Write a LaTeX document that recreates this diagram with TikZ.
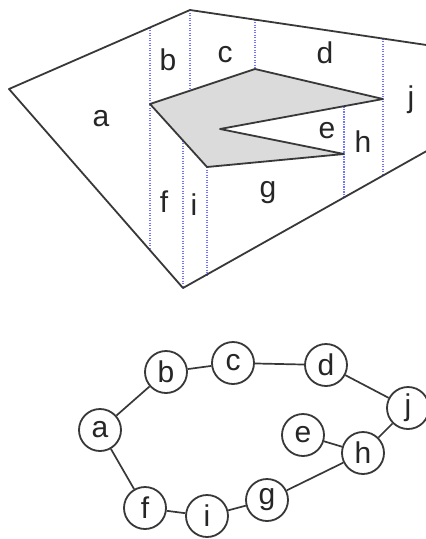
\documentclass[tikz,border=0pt]{standalone}
\usepackage{fontspec}
\setmainfont{Liberation Sans}
\begin{document}
\begin{tikzpicture}[x=1pt,y=-1pt,
  outline/.style={draw=black!78, line width=1.8pt, line join=round},
  sweep/.style={draw=blue!55!white, line width=1.8pt, dash pattern=on 1.3pt off 1.2pt},
  lbl/.style={anchor=base, font=\fontsize{30}{30}\selectfont, text=black!85, inner sep=0pt},
  vtx/.style={circle, draw=black!78, fill=white, line width=1.8pt, minimum size=42pt, inner sep=0pt, font=\fontsize{30}{30}\selectfont, text=black!85},
  link/.style={draw=black!78, line width=1.7pt}]
\useasboundingbox (0,0) rectangle (426,539);
\clip (0,0) rectangle (426,539);
% outer region vertices
\coordinate (L) at (9,89);
\coordinate (T) at (190,10);
\coordinate (RT) at (440,47);
\coordinate (RB) at (440,143.5);
\coordinate (B) at (183,288);
% obstacle polygon
\coordinate (P1) at (150,104);
\coordinate (P2) at (255,69);
\coordinate (P3) at (383,99);
\coordinate (P4) at (220,129);
\coordinate (P5) at (344,154);
\coordinate (P6) at (207,167);
\fill[black!14] (P1) -- (P2) -- (P3) -- (P4) -- (P5) -- (P6) -- cycle;
% sweep lines
\draw[sweep] (150,27.5) -- (150,250.3);
\draw[sweep] (190,10) -- (190,90.7);
\draw[sweep] (255,19.6) -- (P2);
\draw[sweep] (383,38.6) -- (383,176);
\draw[sweep] (183,140.5) -- (B);
\draw[sweep] (P6) -- (207,274.6);
\draw[sweep] (344,106.2) -- (344,197.8);
% outlines
\draw[outline] (L) -- (T) -- (RT) -- (RB) -- (B) -- cycle;
\draw[outline] (P1) -- (P2) -- (P3) -- (P4) -- (P5) -- (P6) -- cycle;
% region labels
\node[lbl] (la) at (101,126) {a};
\node[lbl] (lb) at (168,70) {b};
\node[lbl] (lc) at (225,62) {c};
\node[lbl] (ld) at (325,63) {d};
\node[lbl] (lj) at (411,107) {j};
\node[lbl] (le) at (327,138) {e};
\node[lbl] (lh) at (363,152) {h};
\node[lbl] (lf) at (164,212) {f};
\node[lbl] (li) at (194,215) {i};
\node[lbl] (lg) at (268,197) {g};
% graph
\node[vtx] (a) at (100,430) {a};
\node[vtx] (b) at (166,372) {b};
\node[vtx] (c) at (233,363) {c};
\node[vtx] (d) at (326,365) {d};
\node[vtx] (j) at (408,408) {j};
\node[vtx] (e) at (303,435) {e};
\node[vtx] (h) at (363,453) {h};
\node[vtx] (f) at (145,508) {f};
\node[vtx] (i) at (207,516) {i};
\node[vtx] (g) at (267,500) {g};
\draw[link] (a) -- (b);
\draw[link] (b) -- (c);
\draw[link] (c) -- (d);
\draw[link] (d) -- (j);
\draw[link] (j) -- (h);
\draw[link] (h) -- (e);
\draw[link] (h) -- (g);
\draw[link] (g) -- (i);
\draw[link] (i) -- (f);
\draw[link] (f) -- (a);
\end{tikzpicture}
\end{document}
